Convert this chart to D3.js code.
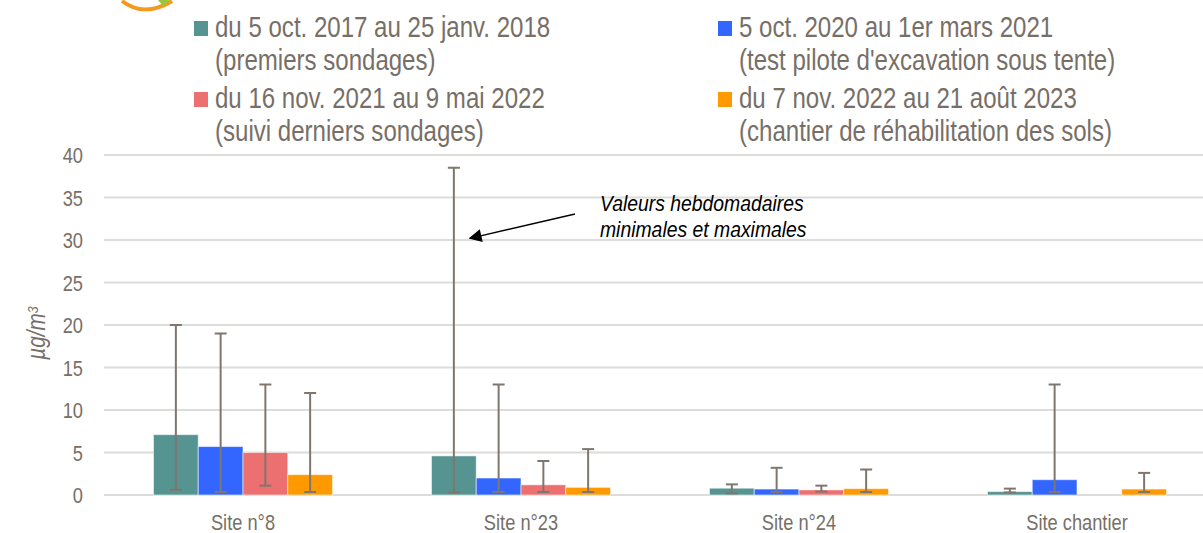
<!DOCTYPE html>
<html>
<head>
<meta charset="utf-8">
<script src="https://cdn.jsdelivr.net/npm/d3@7"></script>
<style>
  body { margin: 0; background: #fff; }
  svg text { font-family: "Liberation Sans Narrow", "Arial Narrow", "Liberation Sans", Arial, sans-serif; }
</style>
</head>
<body>
<div id="chart"></div>
<script>
/** Benzene weekly averages by site *****************/

var categories = ["Site n°8", "Site n°23", "Site n°24", "Site chantier"];

var seriesNames = [
    ["du 5 oct. 2017 au 25 janv. 2018", "(premiers sondages)"],
    ["5 oct. 2020 au 1er mars 2021", "(test pilote d'excavation sous tente)"],
    ["du 16 nov. 2021 au 9 mai 2022", "(suivi derniers sondages)"],
    ["du 7 nov. 2022 au 21 août 2023", "(chantier de réhabilitation des sols)"]
];
var seriesColors = ["#559490", "#3366ff", "#ed7070", "#ff9900"];

// mean per site, one array per period (null = no measurement)
var meanValues = [
    [7.1, 4.6, 0.8, 0.4],
    [5.7, 2.0, 0.7, 1.8],
    [5.0, 1.2, 0.6, null],
    [2.4, 0.9, 0.75, 0.7]
];
// weekly minimum
var minValues = [
    [0.6, 0.3, 0.2, 0.3],
    [0.35, 0.35, 0.35, 0.35],
    [1.1, 0.35, 0.4, null],
    [0.35, 0.35, 0.35, 0.35]
];
// weekly maximum
var maxValues = [
    [20, 38.5, 1.25, 0.75],
    [19, 13, 3.2, 13],
    [13, 4.0, 1.1, null],
    [12, 5.4, 3.0, 2.6]
];

var yTicks = [0, 5, 10, 15, 20, 25, 30, 35, 40];
var annotationLines = ["Valeurs hebdomadaires", "minimales et maximales"];

//**************************************************/

var W = 1203, H = 533;
var textColor = "#776f67";
var errColor = "#7f776f";
var narrow = 0.83; // no narrow font installed: squeeze Liberation Sans instead

var svg = d3.select("#chart").append("svg")
    .attr("width", W)
    .attr("height", H);

var x0 = d3.scaleBand()
    .domain(categories)
    .range([104, 1216])
    .paddingInner(0.356)
    .paddingOuter(0.178);

var x1 = d3.scaleBand()
    .domain(d3.range(seriesNames.length))
    .range([0, x0.bandwidth()]);

var y = d3.scaleLinear()
    .domain([0, 40])
    .range([495, 155]);

// gridlines
svg.append("g")
    .selectAll("line")
    .data(yTicks)
  .enter().append("line")
    .attr("x1", 104)
    .attr("x2", W)
    .attr("y1", function(d) { return y(d); })
    .attr("y2", function(d) { return y(d); })
    .style("stroke", "#dcdcd8")
    .style("stroke-width", 2);

// y tick labels
var yAxis = d3.axisLeft(y).tickValues(yTicks).tickSize(0).tickPadding(0);
var yg = svg.append("g")
    .attr("transform", "translate(83,0)")
    .call(yAxis);
yg.select(".domain").remove();
yg.selectAll("text")
    .attr("x", 0)
    .attr("transform", "scale(" + narrow + ",1)")
    .style("font-size", "22px")
    .style("fill", textColor)
    .attr("dy", "0.36em");

// x labels
var xAxis = d3.axisBottom(x0).tickSize(0).tickPadding(0);
var xg = svg.append("g")
    .attr("transform", "translate(0,530)")
    .call(xAxis);
xg.select(".domain").remove();
xg.selectAll("text")
    .attr("y", 0)
    .attr("dy", 0)
    .attr("transform", "scale(" + narrow + ",1)")
    .style("font-size", "22px")
    .style("fill", textColor);

// y axis title
var yTitle = svg.append("text")
    .attr("transform", "translate(45,333) rotate(-90) scale(" + narrow + ",1)")
    .attr("text-anchor", "middle")
    .style("font-size", "25px")
    .style("font-style", "italic")
    .style("fill", textColor);
yTitle.append("tspan").text("µg/m");
yTitle.append("tspan").text("3")
    .attr("dy", "-0.45em")
    .style("font-size", "15px");

// build flat bar data
var bars = [];
for (var s = 0; s < seriesNames.length; s++) {
    for (var c = 0; c < categories.length; c++) {
        if (meanValues[s][c] === null) continue;
        bars.push({
            series: s,
            cat: categories[c],
            value: meanValues[s][c],
            min: minValues[s][c],
            max: maxValues[s][c]
        });
    }
}

var barX = function(d) { return x0(d.cat) + x1(d.series); };
var barMid = function(d) { return barX(d) + x1.bandwidth() / 2; };

svg.append("g")
    .selectAll("rect")
    .data(bars)
  .enter().append("rect")
    .attr("x", barX)
    .attr("width", x1.bandwidth())
    .attr("y", function(d) { return y(d.value); })
    .attr("height", function(d) { return y(0) - y(d.value); })
    .style("fill", function(d) { return seriesColors[d.series]; })
    .style("stroke", "#ffffff")
    .style("stroke-opacity", 0.55)
    .style("stroke-width", 1);

// error bars
var err = svg.append("g")
    .selectAll("g")
    .data(bars)
  .enter().append("g")
    .style("stroke", errColor)
    .style("stroke-width", 2);

err.append("line")
    .attr("x1", barMid).attr("x2", barMid)
    .attr("y1", function(d) { return y(d.min); })
    .attr("y2", function(d) { return y(d.max); });

var capHalf = 6;
err.append("line")   // top cap
    .attr("x1", function(d) { return barMid(d) - capHalf; })
    .attr("x2", function(d) { return barMid(d) + capHalf; })
    .attr("y1", function(d) { return y(d.max); })
    .attr("y2", function(d) { return y(d.max); });
err.append("line")   // bottom cap
    .attr("x1", function(d) { return barMid(d) - capHalf; })
    .attr("x2", function(d) { return barMid(d) + capHalf; })
    .attr("y1", function(d) { return y(d.min); })
    .attr("y2", function(d) { return y(d.min); });

// legend
var legendPos = [[194, 21], [718, 21], [194, 92], [718, 92]];
var legend = svg.append("g")
    .selectAll("g")
    .data(seriesNames)
  .enter().append("g")
    .attr("transform", function(d, i) { return "translate(" + legendPos[i][0] + "," + legendPos[i][1] + ")"; });

legend.append("rect")
    .attr("width", 14)
    .attr("height", 15)
    .style("fill", function(d, i) { return seriesColors[i]; });

legend.each(function(d) {
    var g = d3.select(this);
    d.forEach(function(line, k) {
        g.append("text")
            .attr("transform", "translate(21," + (16 + k * 33) + ") scale(" + narrow + ",1)")
            .style("font-size", "29px")
            .style("fill", textColor)
            .text(line);
    });
});

// annotation
var ann = svg.append("g");
ann.selectAll("text")
    .data(annotationLines)
  .enter().append("text")
    .attr("transform", function(d, i) { return "translate(600," + (211 + i * 26) + ") scale(0.88,1)"; })
    .style("font-size", "22px")
    .style("font-style", "italic")
    .style("fill", "#000")
    .text(function(d) { return d; });

svg.append("defs").append("marker")
    .attr("id", "arrow")
    .attr("viewBox", "0 0 10 10")
    .attr("refX", 9).attr("refY", 5)
    .attr("markerWidth", 18).attr("markerHeight", 13)
    .attr("markerUnits", "userSpaceOnUse")
    .attr("orient", "auto")
  .append("path")
    .attr("d", "M0,0 L10,5 L0,10 z")
    .style("fill", "#000");

// arrow from the note towards the Site n°23 whisker
ann.append("line")
    .attr("x1", 575).attr("y1", 214)
    .attr("x2", x0(categories[1]) + x1(0) + x1.bandwidth() / 2 + 16)
    .attr("y2", y(30.2))
    .style("stroke", "#000")
    .style("stroke-width", 1.3)
    .attr("marker-end", "url(#arrow)");

// logo fragment, top left corner
svg.append("path")
    .attr("d", "M122,1 Q144,18 172,1")
    .style("fill", "none")
    .style("stroke", "#f39a1e")
    .style("stroke-width", 4);
svg.append("path")
    .attr("d", "M158,0 L170,0 L163,6 z")
    .style("fill", "#9bc53d");
</script>
</body>
</html>
